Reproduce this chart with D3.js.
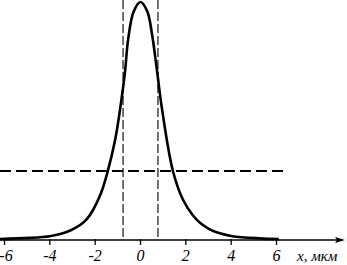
<!DOCTYPE html>
<html>
<head>
<meta charset="utf-8">
<script src="https://cdn.jsdelivr.net/npm/d3@7"></script>
<style>
  html, body { margin: 0; padding: 0; background: #fff; }
  svg { display: block; }
  .tick-label { font-family: "Liberation Serif", serif; font-style: italic; font-size: 16px; fill: #000; }
</style>
</head>
<body>
<svg id="svg" width="347" height="265"></svg>
<script>
// intensity profile (x in мкм, y normalised to the peak)
const profileX = [-6.2, -4.9, -4.0, -3.5, -3.05, -2.65, -2.35, -2.1, -1.75, -1.47, -1.12, -0.9, -0.68, -0.55, -0.3, 0, 0.3, 0.5, 0.73, 0.95, 1.43, 1.87, 2.3, 2.65, 3.05, 3.5, 4.05, 5.25, 6.1];
const profileY = [0.004, 0.009, 0.016, 0.026, 0.042, 0.064, 0.09, 0.125, 0.195, 0.28, 0.42, 0.55, 0.71, 0.84, 0.96, 1.0, 0.96, 0.87, 0.71, 0.55, 0.29, 0.17, 0.105, 0.07, 0.045, 0.028, 0.016, 0.007, 0.004];
const levelY = 0.29;          // horizontal dashed level
const levelX = [-6.2, 6.3];
const markerX = [-0.77, 0.77]; // vertical dashed lines
const tickValues = [-6, -4, -2, 0, 2, 4, 6];
const axisLabel = "x, мкм";

const svg = d3.select("#svg");
const x = d3.scaleLinear().domain([-6, 6]).range([4.5, 276.5]);
const y = d3.scaleLinear().domain([0, 1]).range([240, 2]);
const y0 = y(0);

// axis line with arrow
svg.append("line")
  .attr("x1", 0).attr("x2", 340)
  .attr("y1", y0).attr("y2", y0)
  .attr("stroke", "#000").attr("stroke-width", 1.3);
svg.append("path")
  .attr("d", `M345,${y0} L335,${y0 - 3} L337,${y0} L335,${y0 + 3} Z`)
  .attr("fill", "#000");

// ticks + labels
svg.selectAll(".tk").data(tickValues).join("line")
  .attr("class", "tk")
  .attr("x1", d => x(d)).attr("x2", d => x(d))
  .attr("y1", y0 - 1).attr("y2", y0 + 5)
  .attr("stroke", "#000").attr("stroke-width", 1.3);
svg.selectAll(".tick-label").data(tickValues).join("text")
  .attr("class", "tick-label")
  .attr("x", d => d === -6 ? x(d) + 1.5 : x(d)).attr("y", 261)
  .attr("text-anchor", "middle")
  .text(d => d < 0 ? "-" + Math.abs(d) : d);
svg.append("text")
  .attr("class", "tick-label")
  .attr("x", 297).attr("y", 261)
  .style("font-size", "15px")
  .text(axisLabel);

// vertical dashed markers
svg.selectAll(".mk").data(markerX).join("line")
  .attr("class", "mk")
  .attr("x1", d => x(d)).attr("x2", d => x(d))
  .attr("y1", 0).attr("y2", y0)
  .attr("stroke", "#000").attr("stroke-width", 1.1)
  .attr("stroke-dasharray", "9,3");

// horizontal dashed level
svg.append("line")
  .attr("x1", x(levelX[0])).attr("x2", x(levelX[1]))
  .attr("y1", y(levelY)).attr("y2", y(levelY))
  .attr("stroke", "#000").attr("stroke-width", 2)
  .attr("stroke-dasharray", "11,5");

// profile curve
const pts = profileX.map((v, i) => [v, profileY[i]]);
svg.append("path")
  .datum(pts)
  .attr("fill", "none")
  .attr("stroke", "#000")
  .attr("stroke-width", 2.6)
  .attr("d", d3.line().x(d => x(d[0])).y(d => y(d[1])).curve(d3.curveCatmullRom.alpha(0.5)));
</script>
</body>
</html>
